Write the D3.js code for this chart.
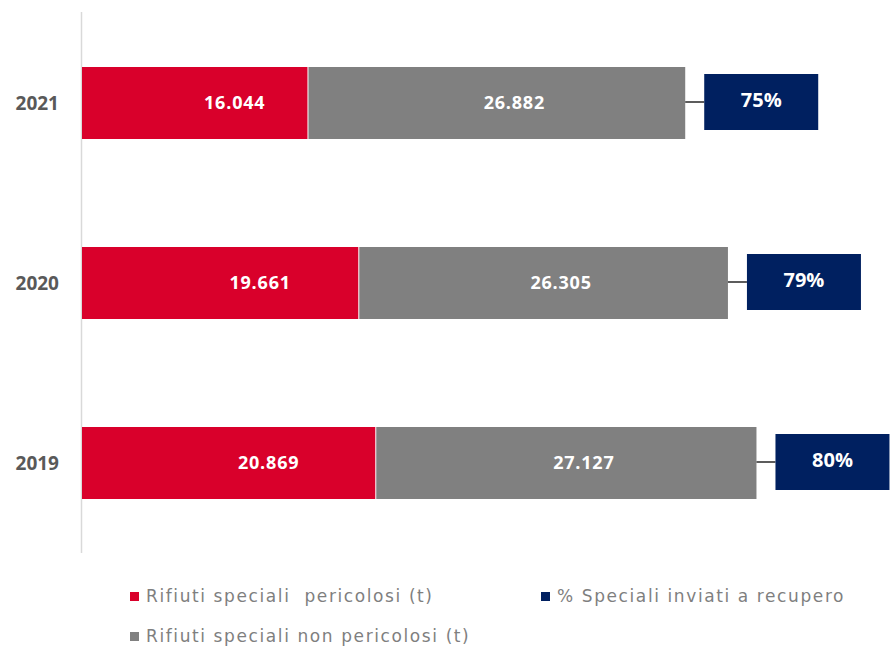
<!DOCTYPE html>
<html>
<head>
<meta charset="utf-8">
<script src="https://cdn.jsdelivr.net/npm/d3@7"></script>
<style>
  body { margin: 0; background: #fff; }
  svg { display: block; }
</style>
</head>
<body>
<svg id="chart" width="892" height="647"></svg>
<script>
// dati
const years = ["2021", "2020", "2019"];
const pericolosi = [16044, 19661, 20869];
const nonPericolosi = [26882, 26305, 27127];
const recupero = [75, 79, 80];
const legendLabels = ["Rifiuti speciali  pericolosi (t)", "Rifiuti speciali non pericolosi (t)", "% Speciali inviati a recupero"];

const colors = { red: "#D9002B", gray: "#808080", navy: "#002060" };
const fmt = d3.format(",");
const itFmt = v => fmt(v).replace(/,/g, ".");

const svg = d3.select("#chart");

const x = d3.scaleLinear().domain([0, 57000]).range([82, 883]);
const y = d3.scaleBand().domain(years).range([13, 553]).paddingInner(0.6).paddingOuter(0.3);

const rows = years.map((yr, i) => ({
  year: yr, p: pericolosi[i], np: nonPericolosi[i], rec: recupero[i]
}));

// asse verticale
svg.append("line")
  .attr("x1", x(0) - 0.5).attr("x2", x(0) - 0.5)
  .attr("y1", 12).attr("y2", 553)
  .attr("stroke", "#d9d9d9").attr("stroke-width", 1.5);

const row = svg.selectAll("g.row").data(rows).enter().append("g").attr("class", "row");
const mid = d => y(d.year) + y.bandwidth() / 2;

row.append("rect")
  .attr("x", x(0))
  .attr("y", d => y(d.year))
  .attr("width", d => x(d.p) - x(0))
  .attr("height", y.bandwidth())
  .attr("fill", colors.red);

row.append("rect")
  .attr("x", d => x(d.p) + 1)
  .attr("y", d => y(d.year))
  .attr("width", d => x(d.p + d.np) - x(d.p) - 1)
  .attr("height", y.bandwidth())
  .attr("fill", colors.gray);

const valueFont = "bold 18px 'Open Sans', sans-serif";
row.append("text")
  .attr("x", d => (x(0) + x(d.p)) / 2 + 40)
  .attr("y", mid)
  .attr("dy", "0.35em")
  .attr("text-anchor", "middle")
  .attr("fill", "#fff")
  .style("font", valueFont)
  .style("letter-spacing", "0.8px")
  .text(d => itFmt(d.p));

row.append("text")
  .attr("x", d => (x(d.p) + x(d.p + d.np)) / 2 + 18)
  .attr("y", mid)
  .attr("dy", "0.35em")
  .attr("text-anchor", "middle")
  .attr("fill", "#fff")
  .style("font", valueFont)
  .style("letter-spacing", "0.8px")
  .text(d => itFmt(d.np));

// anni
row.append("text")
  .attr("x", 59)
  .attr("y", mid)
  .attr("dy", "0.35em")
  .attr("text-anchor", "end")
  .attr("fill", "#595959")
  .style("font", "bold 19px 'Open Sans', sans-serif")
  .text(d => d.year);

// etichette percentuale
const boxW = 114, boxH = 56, gap = 19;
row.append("line")
  .attr("x1", d => x(d.p + d.np))
  .attr("x2", d => x(d.p + d.np) + gap)
  .attr("y1", d => mid(d) - 1)
  .attr("y2", d => mid(d) - 1)
  .attr("stroke", "#262626").attr("stroke-width", 1.5);

row.append("rect")
  .attr("x", d => x(d.p + d.np) + gap)
  .attr("y", d => mid(d) - 1 - boxH / 2)
  .attr("width", boxW).attr("height", boxH)
  .attr("fill", colors.navy);

row.append("text")
  .attr("x", d => x(d.p + d.np) + gap + boxW / 2)
  .attr("y", d => mid(d) - 3)
  .attr("dy", "0.35em")
  .attr("text-anchor", "middle")
  .attr("fill", "#fff")
  .style("font", "bold 20px 'Open Sans', sans-serif")
  .text(d => d.rec + "%");

// legenda
const legend = [
  { label: legendLabels[0], color: colors.red, x: 130, y: 596 },
  { label: legendLabels[1], color: colors.gray, x: 130, y: 636 },
  { label: legendLabels[2], color: colors.navy, x: 541, y: 596 }
];
const lg = svg.selectAll("g.leg").data(legend).enter().append("g").attr("class", "leg");
lg.append("rect")
  .attr("x", d => d.x).attr("y", d => d.y - 4)
  .attr("width", 9).attr("height", 9)
  .attr("fill", d => d.color);
lg.append("text")
  .attr("x", d => d.x + 16).attr("y", d => d.y)
  .attr("dy", "0.35em")
  .attr("fill", "#7f7f7f")
  .style("font", "17px 'DejaVu Sans', sans-serif")
  .style("letter-spacing", "1.6px")
  .style("white-space", "pre")
  .text(d => d.label);
</script>
</body>
</html>
